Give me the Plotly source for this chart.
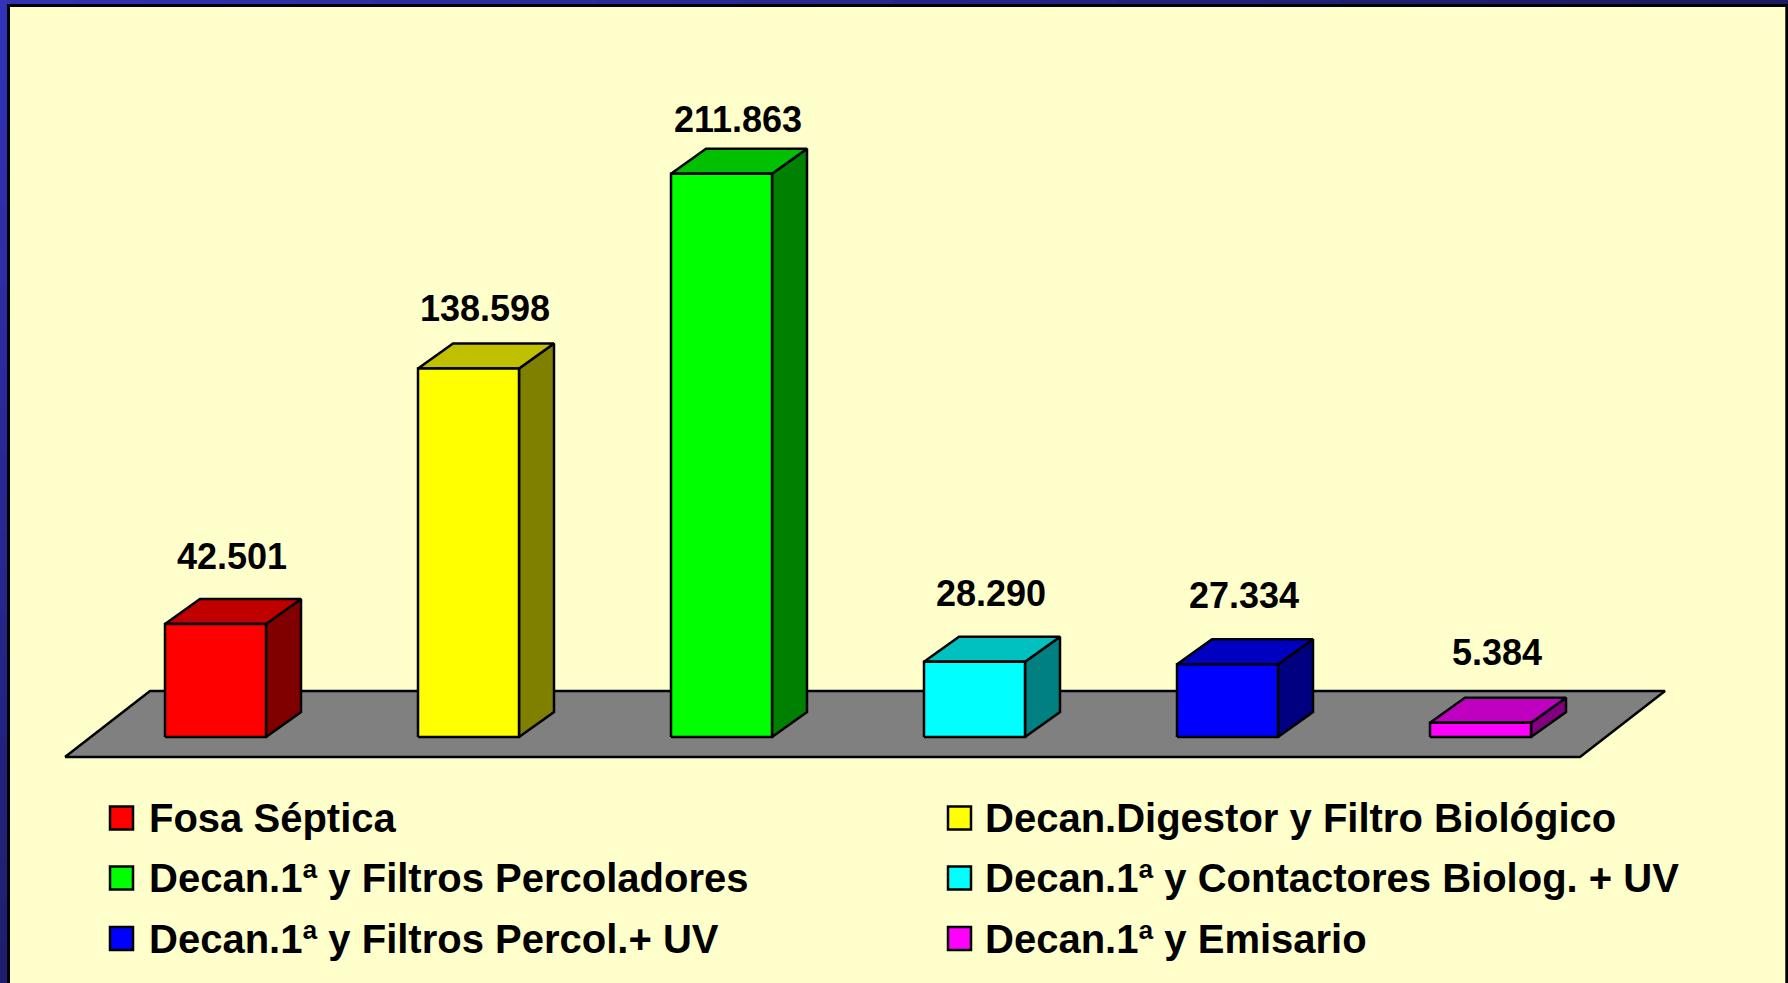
import plotly.graph_objects as go

# ---- data ----
categories = [
    "Fosa Séptica",
    "Decan.Digestor y Filtro Biológico",
    "Decan.1ª y Filtros Percoladores",
    "Decan.1ª y Contactores Biolog. + UV",
    "Decan.1ª y Filtros Percol.+ UV",
    "Decan.1ª y Emisario",
]
values = [42.501, 138.598, 211.863, 28.290, 27.334, 5.384]
value_labels = ["42.501", "138.598", "211.863", "28.290", "27.334", "5.384"]
front_colors = ["#FF0000", "#FFFF00", "#00FF00", "#00FFFF", "#0000FF", "#FF00FF"]
top_colors = ["#C00000", "#C0C000", "#00C000", "#00C0C0", "#0000C0", "#C000C0"]
side_colors = ["#800000", "#808000", "#008000", "#008080", "#000080", "#800080"]

# ---- layout geometry (pixels) ----
W, H = 1788, 983
X_PX = 253.0          # pixels per category step
X0_PX = 215.5         # pixel x of first category centre
Y_PX = 2.659          # pixels per value unit
BASE_PX = 737.0       # pixel y of value 0 (front bottom)
BAR_W = 101 / X_PX
DX = 35 / X_PX
DY = 25 / Y_PX

x_range = [-X0_PX / X_PX, (W - X0_PX) / X_PX]
y_range = [-(H - BASE_PX) / Y_PX, BASE_PX / Y_PX]

def px2x(p):
    return (p - X0_PX) / X_PX

def py2y(p):
    return (BASE_PX - p) / Y_PX

FONT = "Arial, 'Liberation Sans', sans-serif"
LINE_W = 2.5

fig = go.Figure()

# floor
fl_front_y = py2y(757)
fl_back_y = py2y(691)
fl_xl = px2x(65)
fl_xr = px2x(1580)
fl_dx = 85 / X_PX
fig.add_trace(go.Scatter(
    x=[fl_xl, fl_xr, fl_xr + fl_dx, fl_xl + fl_dx, fl_xl],
    y=[fl_front_y, fl_front_y, fl_back_y, fl_back_y, fl_front_y],
    fill="toself", fillcolor="#808080", mode="lines",
    line=dict(color="black", width=LINE_W), hoverinfo="skip", showlegend=False))

hw = BAR_W / 2
for i, v in enumerate(values):
    xl, xr = i - hw, i + hw
    # side face
    fig.add_trace(go.Scatter(
        x=[xr, xr + DX, xr + DX, xr, xr],
        y=[0, DY, v + DY, v, 0],
        fill="toself", fillcolor=side_colors[i], mode="lines",
        line=dict(color="black", width=LINE_W), hoverinfo="skip", showlegend=False))
    # top face
    fig.add_trace(go.Scatter(
        x=[xl, xr, xr + DX, xl + DX, xl],
        y=[v, v, v + DY, v + DY, v],
        fill="toself", fillcolor=top_colors[i], mode="lines",
        line=dict(color="black", width=LINE_W), hoverinfo="skip", showlegend=False))
    # front face
    fig.add_trace(go.Scatter(
        x=[xl, xr, xr, xl, xl],
        y=[0, 0, v, v, 0],
        fill="toself", fillcolor=front_colors[i], mode="lines",
        line=dict(color="black", width=LINE_W), hoverinfo="skip",
        name=categories[i], showlegend=False))
    fig.add_annotation(
        x=i + 0.065, y=v + DY, xref="x", yref="y",
        text="<b>%s</b>" % value_labels[i], showarrow=False,
        yanchor="middle", xanchor="center", yshift=46 - 0.08 * v,
        font=dict(family=FONT, size=36, color="black"))

# ---- border / frame ----
shapes = []
NSEG = 24
def mix(c1, c2, t):
    return "rgb(%d,%d,%d)" % tuple(round(a + (b - a) * t) for a, b in zip(c1, c2))
for k in range(NSEG):
    t = k / (NSEG - 1)
    # left strip (top to bottom), segments overlap to avoid seams
    shapes.append(dict(type="rect", xref="paper", yref="paper",
                       x0=-0.001, x1=7.5 / W,
                       y0=max(0.0, 1 - (k + 1) / NSEG - 0.004), y1=1 - k / NSEG,
                       fillcolor=mix((50, 50, 185), (30, 30, 110), t), line=dict(width=0), layer="above"))
    # top strip (left to right)
    shapes.append(dict(type="rect", xref="paper", yref="paper",
                       x0=k / NSEG, x1=min(1.0, (k + 1) / NSEG + 0.004), y0=1 - 4.5 / H, y1=1.001,
                       fillcolor=mix((50, 50, 180), (26, 26, 96), t), line=dict(width=0), layer="above"))
shapes.append(dict(type="rect", xref="paper", yref="paper",
                   x0=8.5 / W, x1=1786.8 / W, y0=-0.01, y1=1 - 5.5 / H,
                   fillcolor="rgba(0,0,0,0)", line=dict(color="black", width=3), layer="above"))

# ---- legend (manual) ----
leg_col_sq = [110, 948]
leg_col_tx = [147, 983]
leg_row_y = [818, 878, 938.5]
SQ = 23
for i, name in enumerate(categories):
    r, c = i // 2, i % 2
    cy = leg_row_y[r]
    x0 = leg_col_sq[c]
    shapes.append(dict(type="rect", xref="paper", yref="paper",
                       x0=x0 / W, x1=(x0 + SQ) / W,
                       y0=1 - (cy + SQ / 2) / H, y1=1 - (cy - SQ / 2) / H,
                       fillcolor=front_colors[i], line=dict(color="black", width=2.5)))
    fig.add_annotation(x=leg_col_tx[c] / W, y=1 - cy / H, xref="paper", yref="paper",
                       text="<b>%s</b>" % name, showarrow=False,
                       xanchor="left", yanchor="middle",
                       font=dict(family=FONT, size=40, color="black"))

fig.update_layout(
    width=W, height=H, autosize=False,
    margin=dict(l=0, r=0, t=0, b=0, pad=0),
    paper_bgcolor="#FFFFCC", plot_bgcolor="#FFFFCC",
    xaxis=dict(range=x_range, visible=False, fixedrange=True),
    yaxis=dict(range=y_range, visible=False, fixedrange=True),
    shapes=shapes, showlegend=False,
)

fig.write_html(
    "out.html",
    config={"displayModeBar": False},
    post_script="document.body.style.margin='0';document.body.style.overflow='hidden';"
                "document.documentElement.style.overflow='hidden';",
)
